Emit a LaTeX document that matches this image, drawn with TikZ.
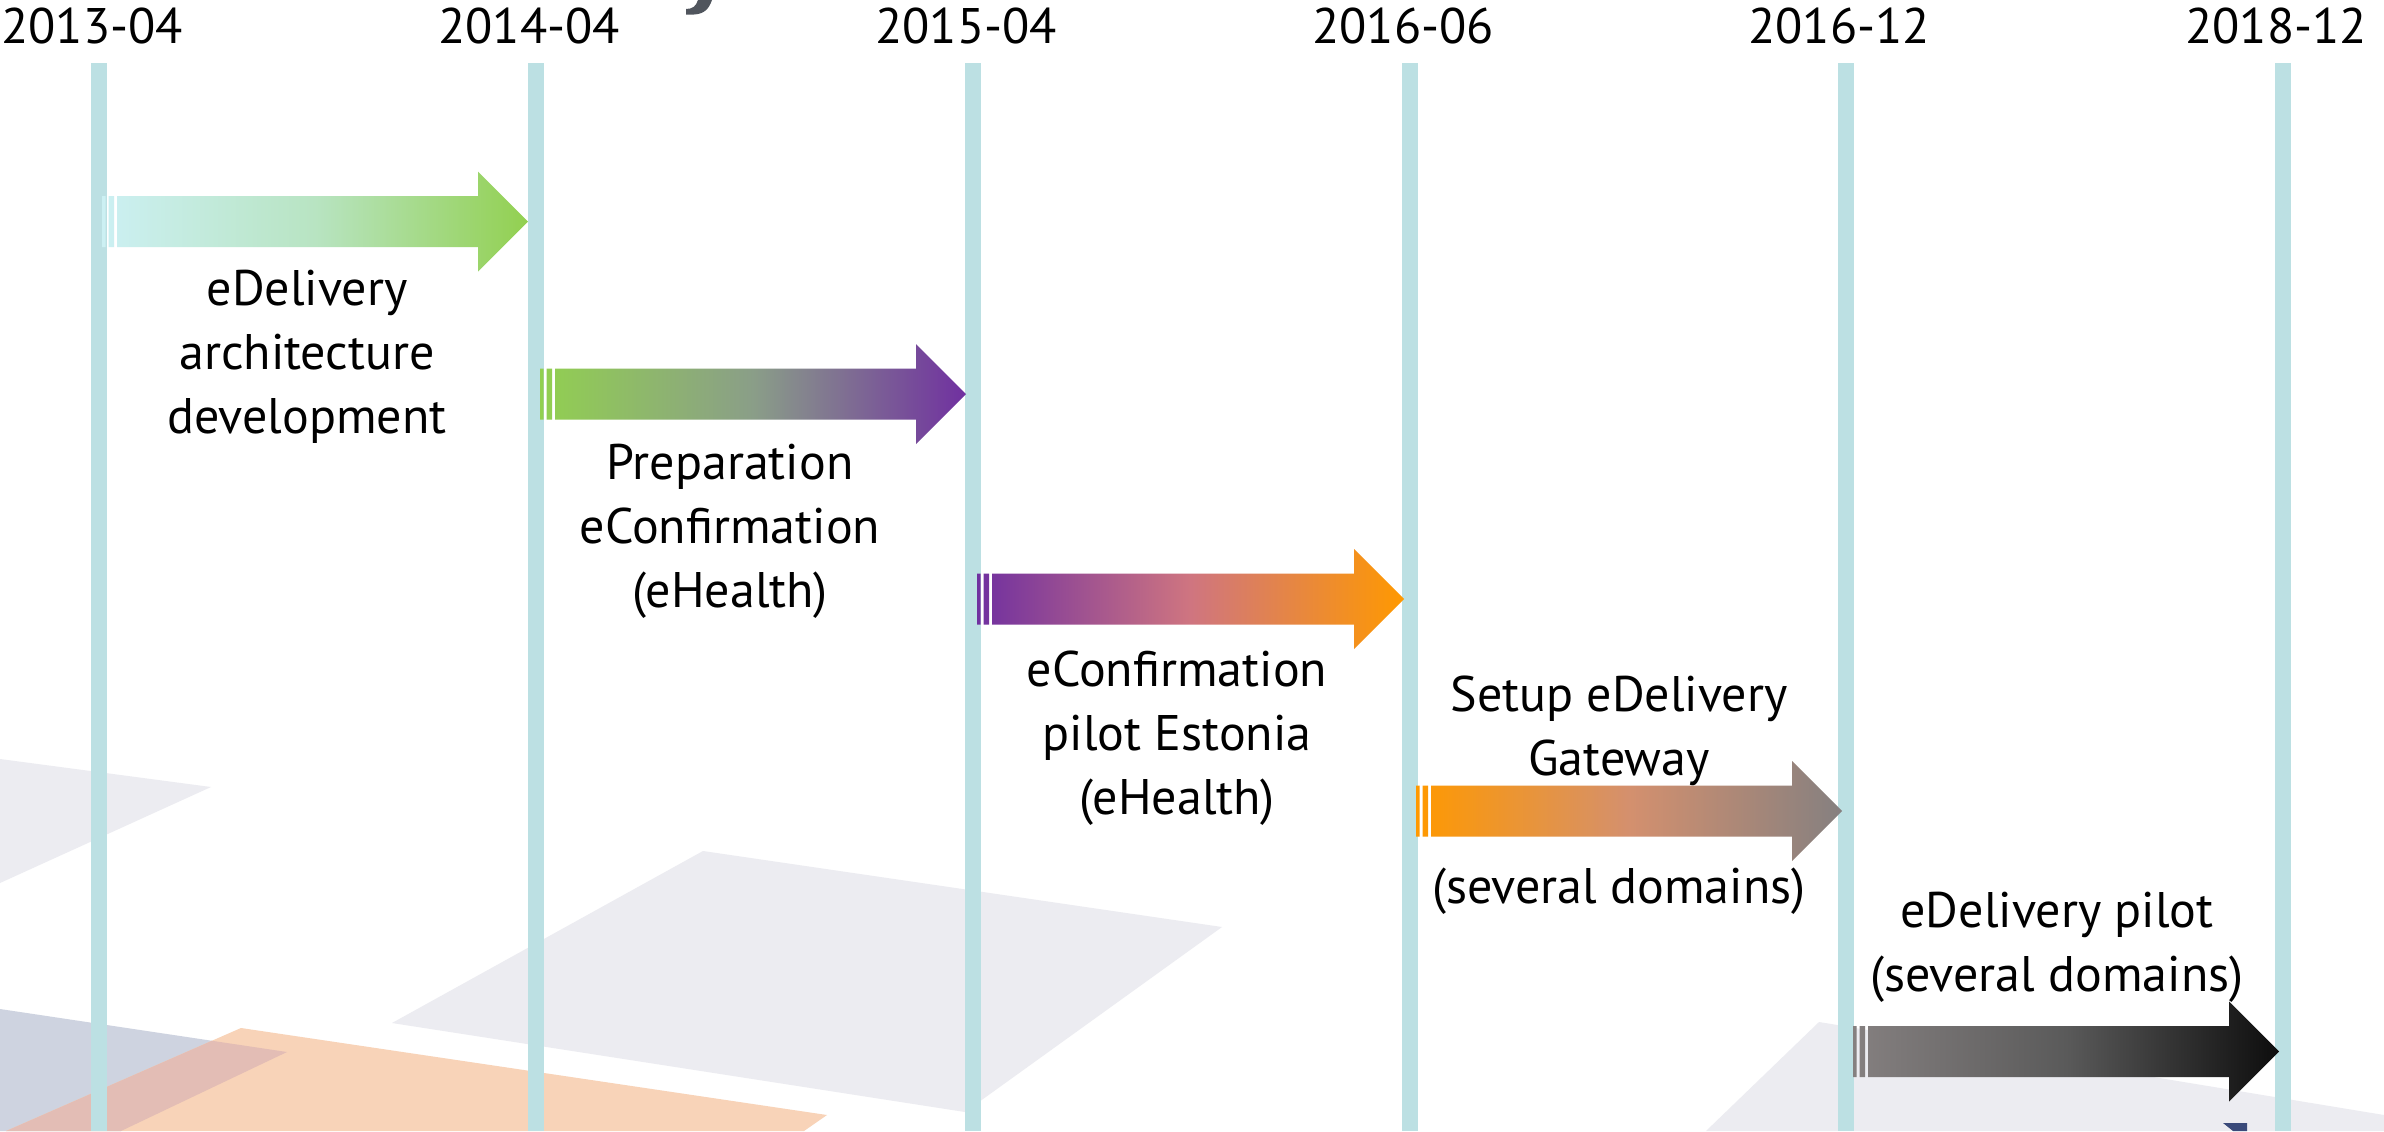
\documentclass[tikz,border=0pt]{standalone}
\usepackage{fontspec}
\setmainfont{PT Sans}
\definecolor{vline}{HTML}{BCE0E3}
\definecolor{lav}{HTML}{ECECF1}
\definecolor{gblue}{HTML}{CED3E0}
\definecolor{peach}{HTML}{F8D3B8}
\definecolor{overlap}{HTML}{E3BDB5}
\definecolor{navy}{HTML}{3A4A7A}
\definecolor{titlegray}{HTML}{50555D}
\definecolor{cyanL}{HTML}{CCF0F3}
\definecolor{greenA}{HTML}{92D050}
\definecolor{purpleA}{HTML}{7030A0}
\definecolor{orangeA}{HTML}{FF9900}
\definecolor{grayA}{HTML}{858080}
\definecolor{blackA}{HTML}{0D0D0D}
\definecolor{midA}{HTML}{B8E4C2}
\definecolor{midB}{HTML}{8A9E88}
\definecolor{midC}{HTML}{CF7580}
\definecolor{midD}{HTML}{D4906E}
\definecolor{midE}{HTML}{5A5A5A}
\newcommand\tlarrow[6]{%
  \shade[left color=#4,right color=#5,middle color=#6]
    ({#1},{#3-25.5}) rectangle ({#1+3.5},{#3+25.5})
    ({#1+6.5},{#3-25.5}) rectangle ({#1+12},{#3+25.5})
    ({#1+15},{#3-25.5}) -- ({#2-50},{#3-25.5}) -- ({#2-50},{#3-50}) -- ({#2},{#3})
    -- ({#2-50},{#3+50}) -- ({#2-50},{#3+25.5}) -- ({#1+15},{#3+25.5}) -- cycle;}
\begin{document}
\begin{tikzpicture}[x=0.5pt,y=-0.5pt,
  datelabel/.style={anchor=base,inner sep=0pt,font=\fontsize{25}{32}\selectfont},
  textlabel/.style={anchor=base,inner sep=0pt,align=center,font=\fontsize{25}{32}\selectfont},
  timeline/.style={vline,line width=8pt}]
\useasboundingbox (0,0) rectangle (2384,1131);
\fill[white] (0,0) rectangle (2384,1131);
% background shapes
\fill[lav] (0,759) -- (211,787) -- (0,883) -- cycle;
\fill[lav] (703,851) -- (1222,927) -- (965,1112) -- (392,1023) -- cycle;
\fill[lav] (1706,1131) -- (1819,1022) -- (2384,1115) -- (2384,1131) -- cycle;
\fill[gblue] (0,1009) -- (287,1052) -- (121,1131) -- (0,1131) -- cycle;
\fill[peach] (241,1028) -- (827,1115) -- (804,1131) -- (6,1131) -- cycle;
\begin{scope}
  \clip (0,1009) -- (287,1052) -- (121,1131) -- (0,1131) -- cycle;
  \fill[overlap] (241,1028) -- (827,1115) -- (804,1131) -- (6,1131) -- cycle;
\end{scope}
\fill[navy] (2223,1123) -- (2247,1123) -- (2247,1131) -- (2233,1131) -- cycle;
\fill[titlegray] (698,0) -- (712,0) .. controls (709,9) and (704,14) .. (694,14.5) -- (686,14.5) -- (686,9) .. controls (693,9) and (696,6) .. cycle;
% timelines
\foreach \i/\x/\d in {1/99/2013-04,2/536/2014-04,3/973/2015-04,4/1410/2016-06,5/1846/2016-12,6/2283/2018-12}{
  \node[datelabel] (d\i) at (\x-7,43) {\d};
  \coordinate (t\i) at (\x,63);
  \coordinate (b\i) at (\x,1131);
  \draw[timeline] (t\i) -- (b\i);
}
% arrows
\tlarrow{102}{528}{221.5}{cyanL}{greenA}{midA}
\tlarrow{540}{966}{394}{greenA}{purpleA}{midB}
\tlarrow{977}{1404}{599}{purpleA}{orangeA}{midC}
\tlarrow{1416}{1842}{811}{orangeA}{grayA}{midD}
\tlarrow{1853}{2279}{1051.5}{grayA}{blackA}{midE}
% labels (anchor base = baseline of last line)
\node[textlabel] (l1) at (307,433) {eDelivery\\architecture\\development};
\node[textlabel] (l2) at (730,607) {Preparation\\eConfirmation\\(eHealth)};
\node[textlabel] (l3) at (1177,814) {eConfirmation\\pilot Estonia\\(eHealth)};
\node[textlabel] (l4) at (1619,903) {Setup eDelivery\\Gateway\\[32pt](several domains)};
\node[textlabel] (l5) at (2057,991) {eDelivery pilot\\(several domains)};
\end{tikzpicture}
\end{document}
